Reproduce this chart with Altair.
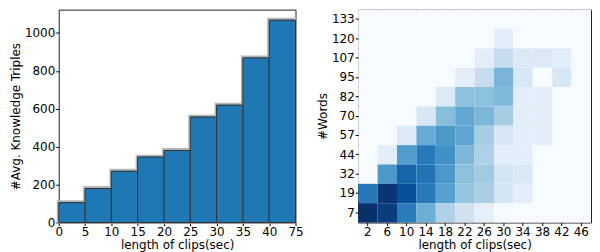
import altair as alt
import pandas as pd

# ---------------- data ----------------
# left: histogram of avg knowledge triples per clip-length bin
bin_edges = [0, 5, 10, 15, 20, 25, 30, 35, 40, 75]
avg_triples = [105, 179, 270, 345, 380, 556, 619, 868, 1067]

# right: 2D histogram (normalised intensity 0..1), rows top -> bottom
clip_bins = [2, 6, 10, 14, 18, 22, 26, 30, 34, 38, 42, 46]
word_bins = [133, 120, 107, 95, 82, 70, 57, 44, 32, 19, 7]
heat = [
    [0, 0, 0, 0, 0, 0, 0, 0, 0, 0, 0, 0],                          # 133
    [0, 0, 0, 0, 0, 0, 0, 0.10, 0, 0, 0, 0],                       # 120
    [0, 0, 0, 0, 0, 0, 0.10, 0.24, 0.14, 0.14, 0.11, 0],           # 107
    [0, 0, 0, 0, 0, 0.10, 0.24, 0.47, 0.16, 0, 0.16, 0],           # 95
    [0, 0, 0, 0, 0.13, 0.42, 0.42, 0.45, 0.10, 0.10, 0, 0],        # 82
    [0, 0, 0, 0.16, 0.43, 0.53, 0.46, 0.35, 0.10, 0.10, 0, 0],     # 70
    [0, 0, 0.13, 0.51, 0.60, 0.54, 0.35, 0.16, 0.10, 0.10, 0, 0],  # 57
    [0, 0.10, 0.58, 0.72, 0.63, 0.46, 0.33, 0.10, 0.10, 0, 0, 0],  # 44
    [0, 0.60, 0.80, 0.74, 0.60, 0.42, 0.37, 0.18, 0.15, 0, 0, 0],  # 32
    [0.73, 0.98, 0.88, 0.72, 0.56, 0.40, 0.34, 0.18, 0.10, 0, 0, 0],  # 19
    [1.00, 0.95, 0.71, 0.50, 0.32, 0.20, 0.09, 0.01, 0, 0, 0, 0],  # 7
]

blues_stops = [0, 0.125, 0.25, 0.375, 0.5, 0.625, 0.75, 0.875, 1.0]
blues_colors = ["#f7fbff", "#deebf7", "#c6dbef", "#9ecae1", "#6baed6",
                "#4292c6", "#2171b5", "#08519c", "#08306b"]

# ---------------- tables ----------------
bar_df = pd.DataFrame({
    "i0": list(range(len(avg_triples))),
    "i1": list(range(1, len(avg_triples) + 1)),
    "v": avg_triples,
})

cells = []
for r, w in enumerate(word_bins):
    for c, cb in enumerate(clip_bins):
        cells.append({"clip": cb, "words": w, "val": heat[r][c]})
heat_df = pd.DataFrame(cells)

edge_label_expr = "[" + ",".join("'%d'" % e for e in bin_edges) + "][datum.value]"

# ---------------- left panel ----------------
x_left = alt.X("i0:Q", scale=alt.Scale(domain=[0, len(avg_triples)], nice=False, zero=False),
               axis=alt.Axis(values=list(range(len(bin_edges))), labelExpr=edge_label_expr,
                             title="length of clips(sec)", labelFlush=False, grid=False))
y_left = alt.Y("v:Q", scale=alt.Scale(domain=[0, 1123], nice=False),
               axis=alt.Axis(values=[0, 200, 400, 600, 800, 1000], format="d",
                             title="#Avg. Knowledge Triples", grid=False))

shadow = alt.Chart(bar_df).mark_bar(fill="#1f77b4", stroke="#b5b5b5", strokeWidth=2,
                                     xOffset=-1, yOffset=-1.5).encode(
    x=x_left, x2="i1:Q", y=y_left, y2=alt.datum(0))
bars = alt.Chart(bar_df).mark_bar(fill="#1f77b4", stroke="#333333", strokeWidth=1).encode(
    x=x_left, x2="i1:Q", y=y_left, y2=alt.datum(0))

left = alt.layer(shadow, bars).properties(width=238, height=214)

# ---------------- right panel ----------------
right = alt.Chart(heat_df).mark_rect().encode(
    x=alt.X("clip:O", sort=clip_bins, axis=alt.Axis(title="length of clips(sec)", labelAngle=0)),
    y=alt.Y("words:O", sort=word_bins, axis=alt.Axis(title="#Words")),
    color=alt.Color("val:Q", scale=alt.Scale(domain=blues_stops, range=blues_colors), legend=None),
).properties(width=234, height=214)

chart = alt.hconcat(left, right, spacing=11).properties(padding=0).configure(
    font="DejaVu Sans",
).configure_view(
    stroke="#222222", strokeWidth=1,
).configure_axis(
    labelFont="DejaVu Sans", titleFont="DejaVu Sans",
    labelFontSize=12, titleFontSize=12, titleFontWeight="normal",
    labelColor="#000000", titleColor="#000000",
    tickColor="#000000", tickSize=3, labelPadding=1, titlePadding=2,
    domain=False, grid=False,
)

chart.save("out.html", embed_options={"renderer": "svg", "actions": False})
